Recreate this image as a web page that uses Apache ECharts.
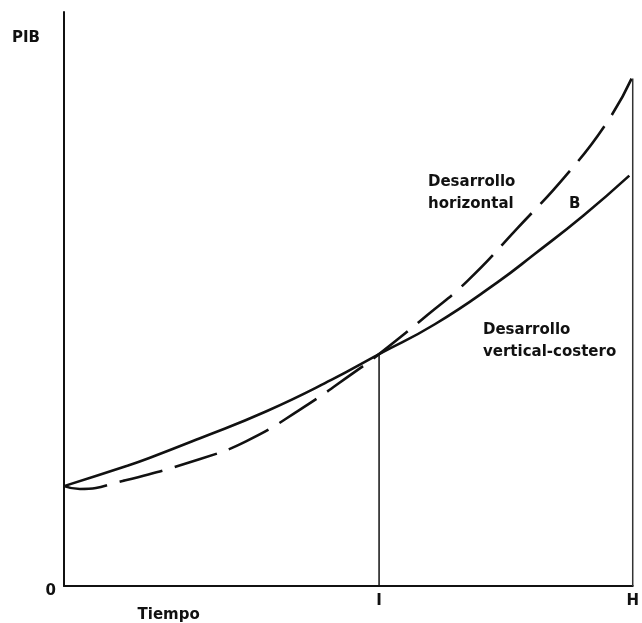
<!DOCTYPE html>
<html>
<head>
<meta charset="utf-8">
<script src="https://cdn.jsdelivr.net/npm/echarts@6/dist/echarts.min.js"></script>
<style>
  html, body { margin: 0; padding: 0; background: #fff; }
  #chart { width: 642px; height: 623px; }
</style>
</head>
<body>
<div id="chart"></div>
<script>
// Time (0 = origin, 100 = H) and PIB (0..100 of the axis height)
const timeSolid = [0, 11.0, 15.0, 23.8, 35.5, 47.0, 55.4, 65.2, 76.2, 82.7, 91.4, 99.4];
const pibSolid  = [17.4, 20.9, 22.3, 25.7, 30.4, 35.9, 40.4, 45.6, 52.9, 57.8, 64.6, 71.5];

const timeDashed = [0, 2.8, 10.3, 23.8, 32.0, 41.3, 51.7, 55.4, 64.0, 71.0, 79.7, 88.5, 95.5, 99.8];
const pibDashed  = [17.4, 16.9, 18.3, 22.1, 25.2, 30.6, 37.7, 40.4, 47.3, 53.2, 62.3, 71.8, 80.8, 88.4];

const markI = 55.4;      // time I
const markIPib = 40.4;   // PIB where curves cross at I
const markH = 100;       // time H
const markHPib = 88.4;   // top of H line

const xTickValues = [18.4, markI, markH];
const xTickLabels = ['Tiempo', 'I', 'H'];
const yTickValues = [0];
const yTickLabels = ['0'];

const FONT = '"DejaVu Sans", sans-serif';

const chart = echarts.init(document.getElementById('chart'), null, { renderer: 'canvas' });

function zip(a, b) { return a.map((v, i) => [v, b[i]]); }

const option = {
  animation: false,
  backgroundColor: '#fff',
  title: {
    text: 'PIB',
    left: 7,
    top: 26,
    textStyle: { fontFamily: FONT, fontWeight: 'bold', fontSize: 15, color: '#111' }
  },
  grid: { left: 64, right: 6, top: 12, bottom: 32, containLabel: false },
  xAxis: {
    type: 'value', min: 0, max: 100,
    axisLine: { show: true, onZero: false, lineStyle: { color: '#111', width: 2 } },
    axisTick: { show: false },
    splitLine: { show: false },
    axisLabel: {
      customValues: xTickValues,
      margin: 8,
      fontFamily: FONT, fontWeight: 'bold', fontSize: 15, color: '#111',
      formatter: function (v) {
        const i = xTickValues.indexOf(v);
        if (i === 0) return '{t|' + xTickLabels[i] + '}';
        return i >= 0 ? xTickLabels[i] : '';
      },
      rich: { t: { fontFamily: FONT, fontWeight: 'bold', fontSize: 15, color: '#111', padding: [14, 0, 0, 0] } }
    }
  },
  yAxis: {
    type: 'value', min: 0, max: 100,
    axisLine: { show: true, onZero: false, lineStyle: { color: '#111', width: 2 } },
    axisTick: { show: false },
    splitLine: { show: false },
    axisLabel: {
      customValues: yTickValues,
      margin: 8,
      fontFamily: FONT, fontWeight: 'bold', fontSize: 15, color: '#111',
      formatter: function (v) {
        const i = yTickValues.indexOf(v);
        return i >= 0 ? '{z|' + yTickLabels[i] + '}' : '';
      },
      rich: { z: { fontFamily: FONT, fontWeight: 'bold', fontSize: 15, color: '#111', padding: [10, 0, 0, 0] } }
    }
  },
  series: [
    {
      name: 'Desarrollo vertical-costero',
      type: 'line', smooth: true, symbol: 'none',
      data: zip(timeSolid, pibSolid),
      lineStyle: { color: '#111', width: 2.6 }
    },
    {
      name: 'Desarrollo horizontal',
      type: 'line', smooth: true, symbol: 'none',
      data: zip(timeDashed, pibDashed),
      lineStyle: { color: '#111', width: 2.6, type: [44, 13] }
    },
    {
      name: 'I',
      type: 'line', symbol: 'none',
      data: [[markI, 0], [markI, markIPib]],
      lineStyle: { color: '#111', width: 1.5 }
    },
    {
      name: 'H',
      type: 'line', symbol: 'none',
      data: [[markH, 0], [markH, markHPib]],
      lineStyle: { color: '#333', width: 1.5 }
    }
  ],
  graphic: [
    { type: 'text', x: 428, y: 182, style: { text: 'Desarrollo', font: 'bold 15px ' + FONT, fill: '#111', verticalAlign: 'middle' } },
    { type: 'text', x: 428, y: 204, style: { text: 'horizontal', font: 'bold 15px ' + FONT, fill: '#111', verticalAlign: 'middle' } },
    { type: 'text', x: 569, y: 204, style: { text: 'B', font: 'bold 15px ' + FONT, fill: '#111', verticalAlign: 'middle' } },
    { type: 'text', x: 483, y: 330, style: { text: 'Desarrollo', font: 'bold 15px ' + FONT, fill: '#111', verticalAlign: 'middle' } },
    { type: 'text', x: 483, y: 352, style: { text: 'vertical-costero', font: 'bold 15px ' + FONT, fill: '#111', verticalAlign: 'middle' } }
  ]
};

chart.setOption(option);
</script>
</body>
</html>
